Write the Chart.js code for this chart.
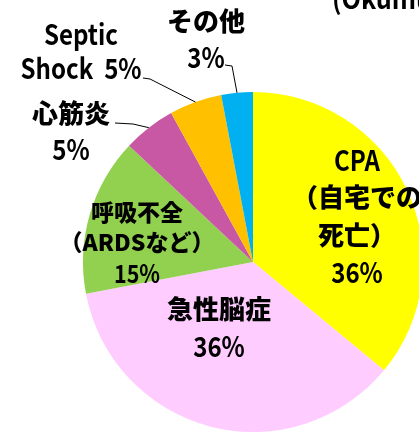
<!DOCTYPE html>
<html>
<head>
<meta charset="utf-8">
<script src="https://cdn.jsdelivr.net/npm/chart.js@4"></script>
<style>
html,body{margin:0;padding:0;overflow:hidden;background:#fff;width:419px;height:433px;}
canvas{display:block;}
</style>
</head>
<body>
<canvas id="c" width="506" height="524"></canvas>
<script>
// ---- data ----
const categories = ['CPA（自宅での死亡）', '急性脳症', '呼吸不全（ARDSなど）', '心筋炎', 'Septic Shock', 'その他'];
const values = [36, 36, 15, 5, 5, 3];
const colors = ['#FFFF00', '#FFCCFF', '#92D050', '#C858A4', '#FFC000', '#00B0F0'];
const labelLines = [
  ['CPA', '（自宅での', '死亡）', '{v}%'],
  ['急性脳症', '{v}%'],
  ['呼吸不全', '（ARDSなど）', '{v}%'],
  ['心筋炎', '{v}%'],
  ['Septic', 'Shock  {v}%'],
  ['その他', '{v}%']
];
const sourceNote = '(Okumura et al.)';

// ---- layout (styling only) ----
const labelLayout = [
  {x: 357, y: 160, gap: 37.5, cjk: 26, lat: 28},
  {x: 219, y: 309, gap: 37, cjk: 26, lat: 28},
  {x: 137, y: 212, gap: 30.5, cjk: 23, lat: 25},
  {x: 71, y: 113, gap: 36, cjk: 26, lat: 28},
  {x: 81, y: 34, gap: 34, cjk: 26, lat: 28},
  {x: 206, y: 21, gap: 36, cjk: 26, lat: 28}
];
const leaders = {3: {x: 115, y: 123, hx: 133}, 4: {x: 143, y: 78, hx: 150}, 5: {x: 225, y: 65, hx: 232}};

const hasCJK = s => /[\u3000-\u9fff\uff00-\uffef]/.test(s);
const FONT = '"Noto Sans CJK JP", "Noto Sans", sans-serif';

const labelPlugin = {
  id: 'labels',
  afterDraw(chart) {
    const ctx = chart.ctx;
    const meta = chart.getDatasetMeta(0);
    ctx.save();
    ctx.strokeStyle = '#000';
    ctx.lineWidth = 1;
    Object.keys(leaders).forEach(k => {
      const i = +k, L = leaders[k];
      const arc = meta.data[i];
      const mid = (arc.startAngle + arc.endAngle) / 2;
      const ex = arc.x + Math.cos(mid) * arc.outerRadius;
      const ey = arc.y + Math.sin(mid) * arc.outerRadius;
      ctx.beginPath();
      ctx.moveTo(L.x, L.y);
      ctx.lineTo(L.hx, L.y + 1);
      ctx.lineTo(ex, ey);
      ctx.stroke();
    });
    ctx.fillStyle = '#000';
    ctx.textAlign = 'center';
    ctx.textBaseline = 'middle';
    labelLines.forEach((lines, i) => {
      const lay = labelLayout[i];
      lines.forEach((ln, j) => {
        const t = ln.replace('{v}', values[i]);
        const y = lay.y + j * lay.gap;
        if (hasCJK(t)) {
          ctx.font = '900 ' + lay.cjk + 'px ' + FONT;
          ctx.fillText(t, lay.x, y);
        } else {
          ctx.font = 'bold ' + lay.lat + 'px ' + FONT;
          ctx.save();
          ctx.translate(lay.x, y);
          ctx.scale(0.86, 1);
          ctx.fillText(t, 0, 0);
          ctx.restore();
        }
      });
    });
    ctx.textAlign = 'left';
    ctx.textBaseline = 'alphabetic';
    ctx.font = 'bold 28px ' + FONT;
    ctx.save();
    ctx.translate(332, 9);
    ctx.scale(0.9, 1);
    ctx.fillText(sourceNote, 0, 0);
    ctx.restore();
    ctx.restore();
  }
};

new Chart(document.getElementById('c'), {
  type: 'pie',
  data: {
    labels: categories,
    datasets: [{
      data: values,
      backgroundColor: colors,
      borderWidth: 0
    }]
  },
  options: {
    responsive: false,
    animation: false,
    layout: {padding: {left: 83, right: 83, top: 92, bottom: 92}},
    plugins: {legend: {display: false}, tooltip: {enabled: false}}
  },
  plugins: [labelPlugin]
});
</script>
</body>
</html>
